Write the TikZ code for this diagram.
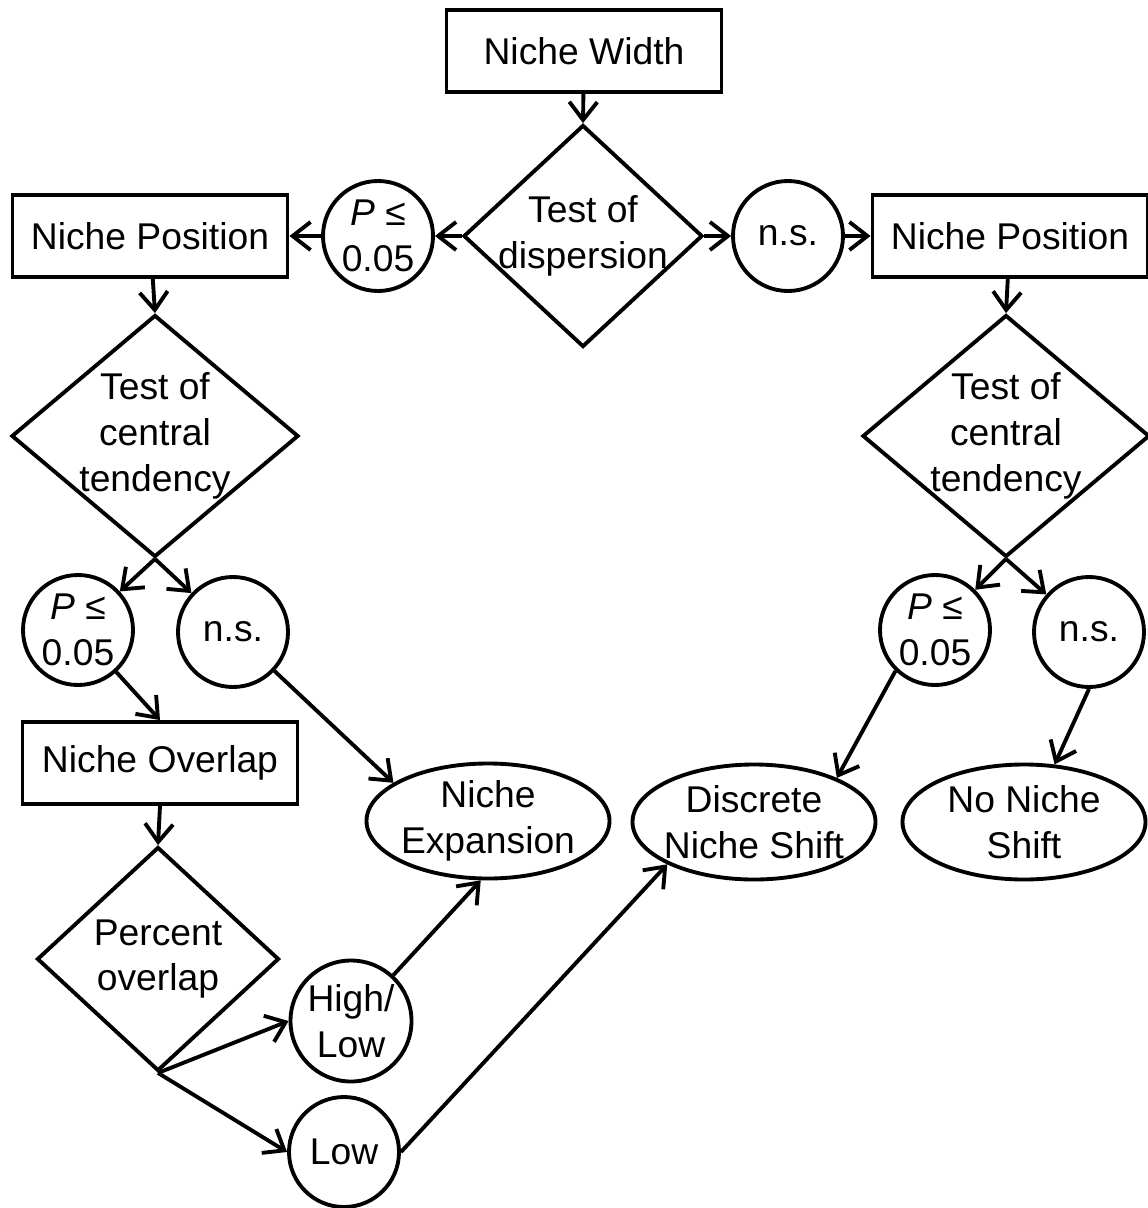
\documentclass[tikz,border=0pt]{standalone}
\usepackage{fontspec}
\setmainfont{Liberation Sans}
\usetikzlibrary{shapes.geometric,arrows.meta}
\tikzset{
    box/.style={draw,rectangle,minimum width=5.5cm,minimum height=1.64cm},
    test/.style={draw,diamond,inner sep=0pt},
    pval/.style={draw,circle,inner sep=0pt,minimum size=2.2cm},
    result/.style={draw,ellipse,inner sep=0pt,minimum width=4.86cm,minimum height=2.3cm},
    inside/.style={label={center:#1}},
}

\begin{document}
\begin{tikzpicture}[line width=2.2pt,>={Straight Barb[length=3.6mm,width=5.6mm]},
    every node/.style={align=center,font=\fontsize{21.2}{26}\selectfont}]
\useasboundingbox (0,0) rectangle (22.96,-24.16);

\node (width) at (11.68,-1.02) [box] {Niche Width};
\node (disp) at (11.66,-4.72) [test,minimum width=4.78cm,minimum height=4.44cm,inside={Test of\\dispersion}] {};
\node (pl) at (7.56,-4.72) [pval] {\textit{P} ≤\\0.05};
\node (nsr) at (15.76,-4.72) [pval] {n.s.};
\node (npl) at (3.0,-4.72) [box] {Niche Position};
\node (npr) at (20.2,-4.72) [box] {Niche Position};

\draw[->] (width) to (disp.north);
\draw[->] (disp) to (pl);
\draw[->] (pl) to (npl);
\draw[->] (disp) to (nsr);
\draw[->] (nsr) to (npr);

\node (ctl) at (3.1,-8.72) [test,minimum width=5.74cm,minimum height=4.84cm,inside={Test of\\central\\tendency}] {};
\node (ctr) at (20.12,-8.72) [test,minimum width=5.74cm,minimum height=4.84cm,inside={Test of\\central\\tendency}] {};
\node (p1) at (1.56,-12.6) [pval] {\textit{P} ≤\\0.05};
\node (n1) at (4.66,-12.64) [pval] {n.s.};
\node (p2) at (18.7,-12.6) [pval] {\textit{P} ≤\\0.05};
\node (n2) at (21.78,-12.64) [pval] {n.s.};

\draw[->] (npl) to (ctl.north);
\draw[->] (npr) to (ctr.north);
\draw[->] (ctl.south) to (p1);
\draw[->] (ctl.south) to (n1);
\draw[->] (ctr.south) to (p2);
\draw[->] (ctr.south) to (n2);

\node (ovl) at (3.2,-15.26) [box] {Niche Overlap};
\node (exp) at (9.76,-16.42) [result,inside={Niche\\Expansion}] {};
\node (dns) at (15.08,-16.44) [result,inside={Discrete\\Niche Shift}] {};
\node (nns) at (20.48,-16.44) [result,inside={No Niche\\Shift}] {};

\draw[->] (p1) to (ovl.north);
\draw[->] (n1) to (exp.158);
\draw[->] (p2.226) to (dns.28);
\draw[->] (n2.south) to (nns.62);

\node (pov) at (3.16,-19.18) [test,minimum width=4.84cm,minimum height=4.48cm,inside={Percent\\overlap}] {};
\node (hl) at (7.02,-20.42) [pval,minimum size=2.42cm] {High/\\Low};
\node (low) at (6.88,-23.04) [pval] {Low};

\draw[->] (ovl.south) to (pov.north);
\draw[->] (pov.south) to (hl.west);
\draw[->] (pov.south) to (low.west);
\draw[->] (hl) to (exp.263);
\draw[->] (low.east) to (dns.206);

\end{tikzpicture}
\end{document}
